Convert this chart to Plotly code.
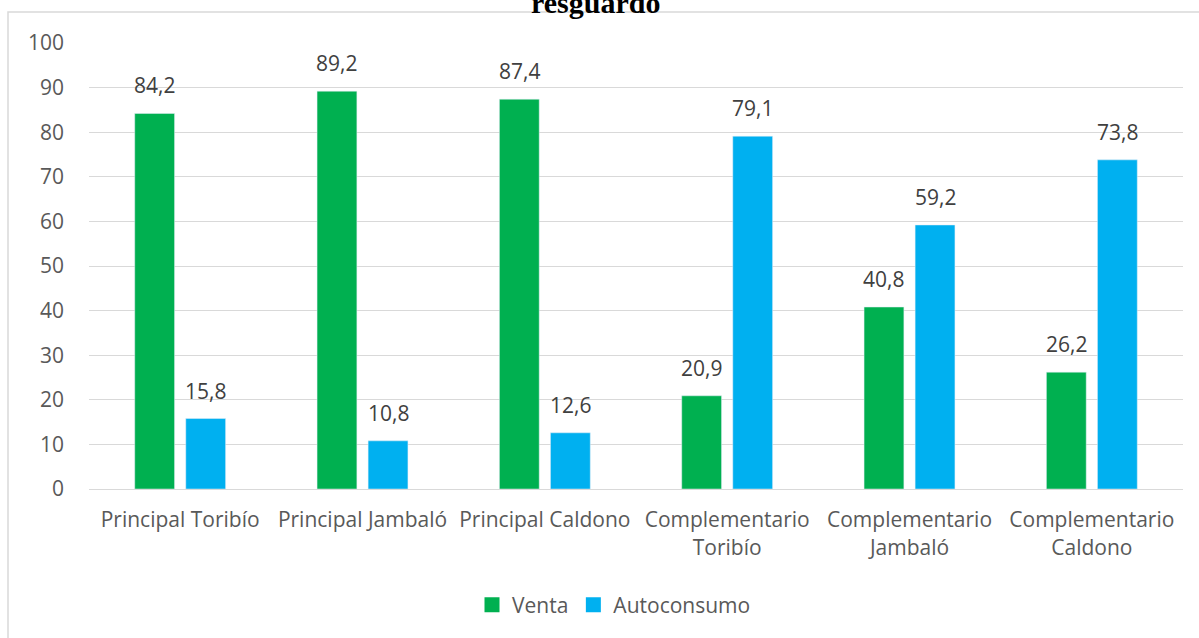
import plotly.graph_objects as go

categories = ["Principal Toribío", "Principal Jambaló", "Principal Caldono",
              "Complementario<br>Toribío", "Complementario<br>Jambaló", "Complementario<br>Caldono"]
venta = [84.2, 89.2, 87.4, 20.9, 40.8, 26.2]
autoconsumo = [15.8, 10.8, 12.6, 79.1, 59.2, 73.8]
tick_vals = [0, 10, 20, 30, 40, 50, 60, 70, 80, 90, 100]

def lab(v):
    return f"{v:.1f}".replace(".", ",")

FONT = "Open Sans"
GREEN, BLUE = "#00B050", "#00B0F0"

fig = go.Figure()
fig.add_bar(name="Venta", x=categories, y=venta, marker_color=GREEN, showlegend=False)
fig.add_bar(name="Autoconsumo", x=categories, y=autoconsumo, marker_color=BLUE, showlegend=False)
# legend entries with larger square keys
for name, col in (("Venta", GREEN), ("Autoconsumo", BLUE)):
    fig.add_scatter(x=[None], y=[None], mode="markers", name=name,
                    marker=dict(symbol="square", size=15, color=col))

W, H = 1199, 638
ml, mr, mt, mb = 89, 16, 43, 149
pw, ph = W - ml - mr, H - mt - mb

# data labels above the bars
slot = pw / len(categories) * (1 - 0.44) / 2
for series, shift in ((venta, -slot / 2), (autoconsumo, slot / 2)):
    for c, v in zip(categories, series):
        fig.add_annotation(x=c, y=v, text=lab(v), showarrow=False, xshift=shift,
                           yanchor="bottom", yshift=12,
                           font=dict(family=FONT, size=21, color="#404040"))

fig.update_layout(
    width=W, height=H,
    margin=dict(l=ml, r=mr, t=mt, b=mb),
    paper_bgcolor="white", plot_bgcolor="white",
    barmode="group", bargap=0.44, bargroupgap=0.22,
    font=dict(family=FONT, size=21, color="#595959"),
    showlegend=True,
    legend=dict(orientation="h", x=(614 - ml) / pw, xanchor="center", y=(489 - 605) / ph,
                yanchor="middle", font=dict(size=21, color="#595959"), itemwidth=30,
                tracegroupgap=0),
)
fig.update_yaxes(range=[0, 100], tickvals=tick_vals, showgrid=True, gridcolor="#D9D9D9",
                 gridwidth=1, zeroline=False, showline=False, ticks="", ticklabelstandoff=24,
                 tickfont=dict(size=21, color="#595959"))
fig.update_xaxes(showline=True, linecolor="#D9D9D9", linewidth=1, ticks="",
                 tickfont=dict(size=21, color="#595959"), ticklabelstandoff=12)

# chart border
fig.add_shape(type="rect", xref="paper", yref="paper",
              x0=(8 - ml) / pw, x1=(W + 5 - ml) / pw,
              y0=(489 - (H + 5)) / ph, y1=(489 - 12) / ph,
              line=dict(color="#D9D9D9", width=1.5), fillcolor="rgba(0,0,0,0)", layer="below")

# partially visible title (cut at the top edge, as in the reference)
fig.add_annotation(text="<b>resguardo</b>", xref="paper", yref="paper",
                   x=(595 - ml) / pw, y=(489 - 21) / ph, yanchor="bottom", xanchor="center",
                   showarrow=False, font=dict(family="Liberation Serif", size=30, color="black"))

fig.write_html("out.html", config={"displayModeBar": False},
               post_script="document.body.style.margin='0';document.body.style.overflow='hidden';")
